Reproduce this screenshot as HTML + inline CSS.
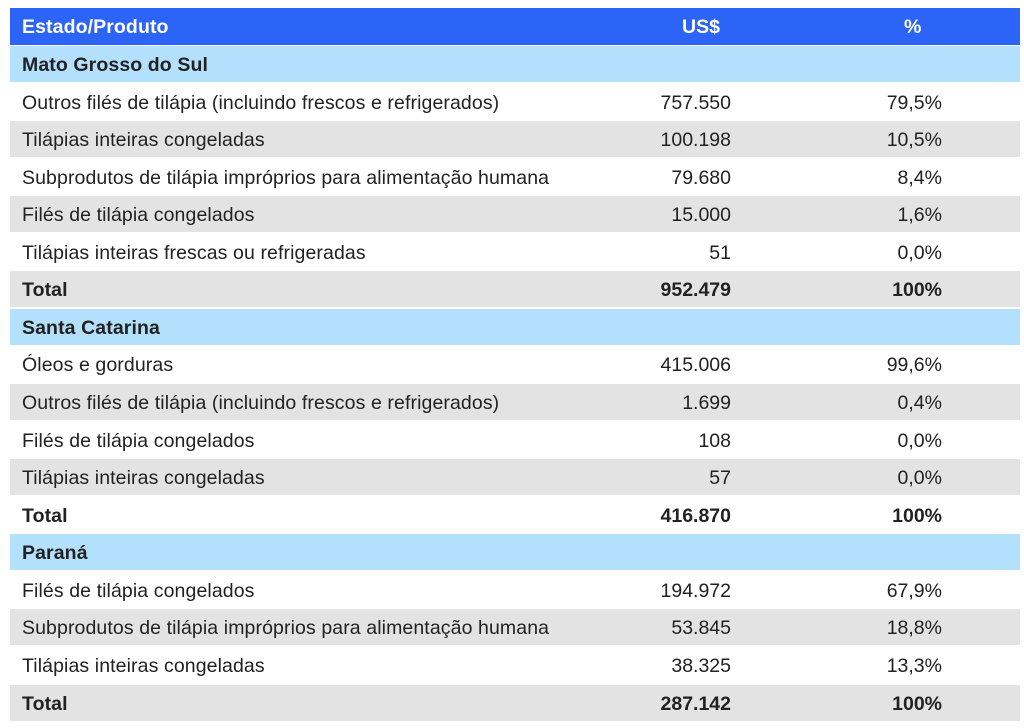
<!DOCTYPE html>
<html><head><meta charset="utf-8"><style>
body{margin:0;width:1024px;height:728px;background:#fff;font-family:"Liberation Sans",sans-serif;position:relative;overflow:hidden}
.r{position:absolute;left:10px;width:1010px;height:36px;font-size:19.5px;color:#222;line-height:38px}
.r span{position:absolute;top:0}
.a{left:12px;letter-spacing:0.1px}.b{right:289px}.c{right:78px}
.g{background:#e3e3e3}.s{background:#b3e0fc;font-weight:bold}.t{font-weight:bold}
.h{background:#2d64f8;color:#fff;font-weight:bold;top:8px;height:37px;line-height:39px}
</style></head><body>
<div class="r h"><span class="a">Estado/Produto</span><span style="left:672px">US$</span><span style="left:894px">%</span></div>
<div class="r s" style="top:46px"><span class="a">Mato Grosso do Sul</span></div>
<div class="r" style="top:84px"><span class="a">Outros filés de tilápia (incluindo frescos e refrigerados)</span><span class="b">757.550</span><span class="c">79,5%</span></div>
<div class="r g" style="top:121px"><span class="a">Tilápias inteiras congeladas</span><span class="b">100.198</span><span class="c">10,5%</span></div>
<div class="r" style="top:159px"><span class="a">Subprodutos de tilápia impróprios para alimentação humana</span><span class="b">79.680</span><span class="c">8,4%</span></div>
<div class="r g" style="top:196px"><span class="a">Filés de tilápia congelados</span><span class="b">15.000</span><span class="c">1,6%</span></div>
<div class="r" style="top:234px"><span class="a">Tilápias inteiras frescas ou refrigeradas</span><span class="b">51</span><span class="c">0,0%</span></div>
<div class="r g t" style="top:271px"><span class="a">Total</span><span class="b">952.479</span><span class="c">100%</span></div>
<div class="r s" style="top:309px"><span class="a">Santa Catarina</span></div>
<div class="r" style="top:346px"><span class="a">Óleos e gorduras</span><span class="b">415.006</span><span class="c">99,6%</span></div>
<div class="r g" style="top:384px"><span class="a">Outros filés de tilápia (incluindo frescos e refrigerados)</span><span class="b">1.699</span><span class="c">0,4%</span></div>
<div class="r" style="top:422px"><span class="a">Filés de tilápia congelados</span><span class="b">108</span><span class="c">0,0%</span></div>
<div class="r g" style="top:459px"><span class="a">Tilápias inteiras congeladas</span><span class="b">57</span><span class="c">0,0%</span></div>
<div class="r t" style="top:497px"><span class="a">Total</span><span class="b">416.870</span><span class="c">100%</span></div>
<div class="r s" style="top:534px"><span class="a">Paraná</span></div>
<div class="r" style="top:572px"><span class="a">Filés de tilápia congelados</span><span class="b">194.972</span><span class="c">67,9%</span></div>
<div class="r g" style="top:609px"><span class="a">Subprodutos de tilápia impróprios para alimentação humana</span><span class="b">53.845</span><span class="c">18,8%</span></div>
<div class="r" style="top:647px"><span class="a">Tilápias inteiras congeladas</span><span class="b">38.325</span><span class="c">13,3%</span></div>
<div class="r g t" style="top:685px"><span class="a">Total</span><span class="b">287.142</span><span class="c">100%</span></div>
</body></html>
